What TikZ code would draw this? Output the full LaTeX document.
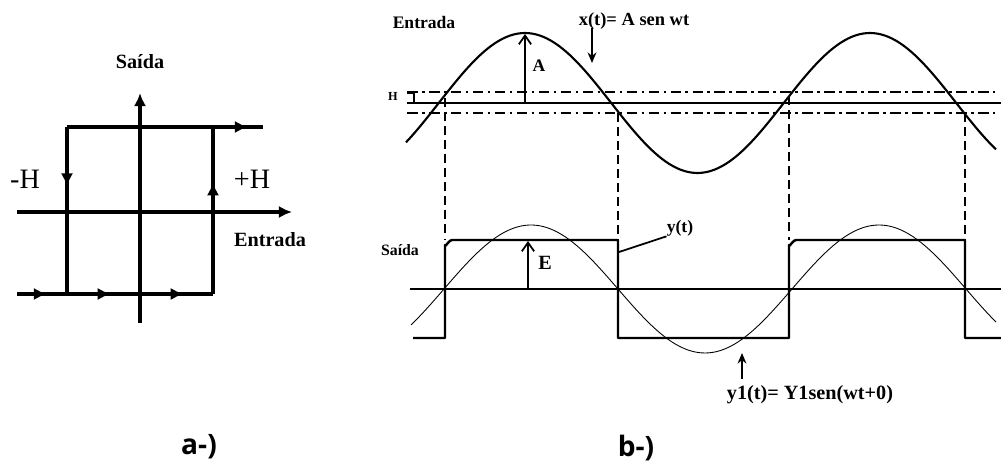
\documentclass[tikz,border=0pt]{standalone}
\usepackage{fontspec}
\setmainfont{Liberation Serif}
\newfontfamily\capfont{Open Sans}
\usetikzlibrary{arrows.meta,decorations.markings}
\tikzset{
  thk/.style={line width=1.9pt},
  midtip/.style={postaction={decorate},decoration={markings,mark=at position #1 with {\arrow{Latex[length=7.5pt,width=7pt]}}}},
  sig/.style={line width=1.2pt},
  sq/.style={line width=1.4pt},
  thin sig/.style={line width=0.5pt},
  dashdot/.style={line width=0.9pt,dash pattern=on 6pt off 2.5pt on 1.5pt off 2.5pt},
  vdash/.style={line width=1pt,dash pattern=on 5pt off 3pt},
  lbl/.style={font=\fontsize{11.5}{13}\selectfont\bfseries, inner sep=0pt},
  lblb/.style={font=\fontsize{10}{12}\selectfont\bfseries, inner sep=0pt},
  bigH/.style={font=\fontsize{16}{18}\selectfont, inner sep=0pt},
  captionlbl/.style={font=\capfont\fontsize{16}{18}\selectfont\bfseries, inner sep=0pt},
  ptr/.style={line width=1pt,-{Stealth[length=6pt,width=5pt]}},
}
\begin{document}
\begin{tikzpicture}[x=0.02cm,y=-0.02cm]
\useasboundingbox (0,0) rectangle (1001,465);
% ---------- part a ----------
\draw[thk,-{Latex[length=7.5pt,width=7pt]}] (140,323) -- (140,93);
\draw[thk,-{Latex[length=7.5pt,width=7pt]}] (17,212) -- (292,212);
\draw[thk,midtip=0.6] (17,294) -- (67,294);
\draw[thk,midtip=0.6] (67,294) -- (140,294);
\draw[thk,midtip=0.6] (140,294) -- (213,294);
\draw[thk] (213,294) -- (213,212);
\draw[thk,midtip=0.35] (213,212) -- (213,127);
\draw[thk] (213,127) -- (67,127);
\draw[thk,midtip=0.7] (213,127) -- (263,127);
\draw[thk,midtip=0.7] (67,127) -- (67,212);
\draw[thk] (67,212) -- (67,294);
\node[lbl] (sa) at (140,62) {Saída};
\node[bigH] (mh) at (25,179) {-H};
\node[bigH] (ph) at (252,179) {+H};
\node[lbl] (ea) at (270,240) {Entrada};
\node[captionlbl] (ca) at (199,447) {a-)};
% ---------- part b: input ----------
\draw[sig] (407,103) -- (1001,103);
\draw[dashdot] (407,92) -- (995,92);
\draw[dashdot] (407,113) -- (995,113);
\draw[line width=0.8pt] (407,93) -- (414,93) -- (414,102);
\node[font=\fontsize{7}{8}\selectfont\bfseries,inner sep=0pt] (hl) at (393,96) {H};
\draw[sig,domain=406:996,samples=160,smooth] plot (\x,{103-70*cos(1.043478*(\x-525))});
\draw[line width=1pt,-{Straight Barb[length=5pt,width=7pt]}] (525,103) -- (525,34);
\node[lblb] (al) at (539,66) {A};
\node[lblb] (et) at (424,22) {Entrada};
\node[font=\fontsize{10.5}{12}\selectfont\bfseries,inner sep=0pt] (xt) at (634,21) {x(t)= A sen wt};
\coordinate (xa) at (592,28);
\coordinate (xb) at (592,63);
\draw[ptr] (xa) -- (xb);
% dashed verticals
\draw[vdash] (445,98) -- (445,240);
\draw[vdash] (618,113) -- (618,240);
\draw[vdash] (789,96) -- (789,240);
\draw[vdash] (965,113) -- (965,240);
% ---------- part b: output ----------
\draw[sig] (410,289) -- (1001,289);
\draw[thin sig,domain=411:996,samples=160,smooth] plot (\x,{289-64*sin(1.034483*(\x-444))});
\draw[sq,line join=round] (413,338) -- (445,338) -- (445,245) to[out=-90,in=180] (452,240) -- (618,240) -- (618,338) -- (789,338) -- (789,245) to[out=-90,in=180] (796,240) -- (965,240) -- (965,338) -- (1001,338);
\draw[line width=1pt,-{Straight Barb[length=5pt,width=7pt]}] (528,289) -- (528,241);
\node[lbl] (el) at (545,263) {E};
\node[font=\fontsize{9}{11}\selectfont\bfseries,inner sep=0pt] (sb) at (400,250) {Saída};
\node[lblb] (yt) at (680,228) {y(t)};
\coordinate (ya) at (619,252);
\draw[line width=1pt] (ya) -- (yt.south west);
\coordinate (y1a) at (742,379);
\coordinate (y1b) at (742,353);
\draw[ptr] (y1a) -- (y1b);
\node[font=\fontsize{11.5}{13}\selectfont\bfseries,inner sep=0pt] (y1) at (810,395) {y1(t)= Y1sen(wt+0)};
\node[captionlbl] (cb) at (636,448) {b-)};
\end{tikzpicture}
\end{document}
